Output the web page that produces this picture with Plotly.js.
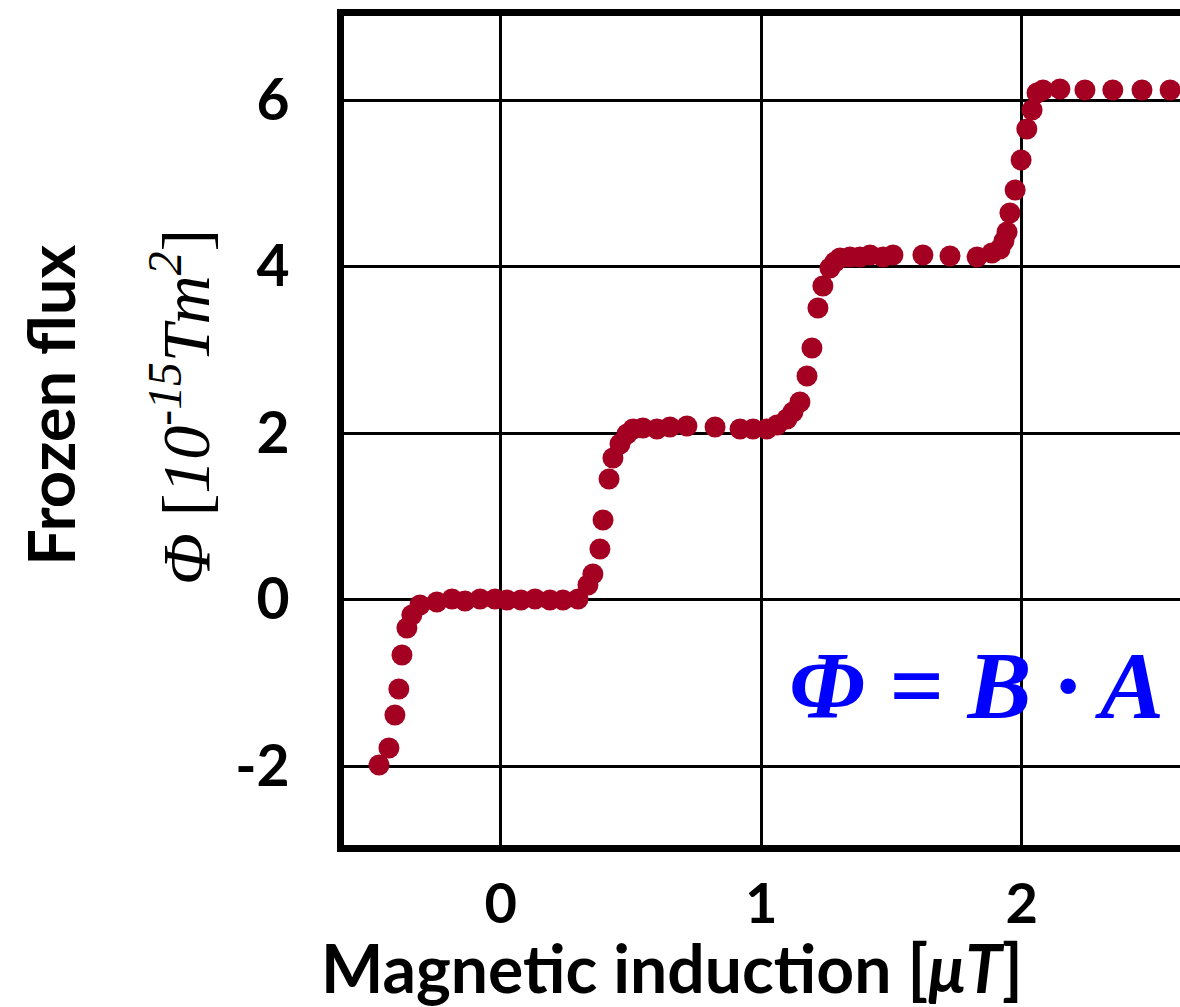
<!DOCTYPE html>
<html>
<head>
<meta charset="utf-8">
<script src="https://cdn.plot.ly/plotly-3.0.1.min.js"></script>
<style>
html,body{margin:0;padding:0;background:#fff;}
#chart{width:1180px;height:1007px;}
</style>
</head>
<body>
<div id="chart"></div>
<script>
// Magnetic induction [µT]
const B = [-0.467,-0.429,-0.406,-0.391,-0.379,-0.360,-0.341,-0.310,-0.245,-0.187,-0.137,-0.079,-0.022,0.024,0.078,0.132,0.189,0.239,0.297,0.335,0.354,0.381,0.393,0.416,0.431,0.458,0.485,0.508,0.546,0.600,0.650,0.715,0.823,0.919,0.969,1.022,1.061,1.099,1.122,1.149,1.176,1.195,1.218,1.237,1.264,1.283,1.303,1.341,1.379,1.418,1.468,1.506,1.621,1.725,1.829,1.886,1.917,1.932,1.944,1.955,1.975,1.998,2.020,2.040,2.059,2.082,2.147,2.243,2.350,2.462,2.570];
// Frozen flux [1e-15 Tm^2]
const PHI = [-1.988,-1.784,-1.387,-1.075,-0.667,-0.342,-0.186,-0.066,-0.030,0.006,-0.018,0.006,0.006,-0.006,-0.006,0.006,-0.006,-0.006,0.006,0.174,0.306,0.607,0.955,1.447,1.700,1.868,1.988,2.048,2.060,2.048,2.072,2.084,2.072,2.048,2.048,2.048,2.096,2.168,2.252,2.372,2.685,3.021,3.502,3.766,3.982,4.054,4.102,4.114,4.114,4.138,4.114,4.138,4.138,4.126,4.114,4.162,4.210,4.306,4.414,4.643,4.919,5.279,5.652,5.880,6.084,6.120,6.132,6.120,6.120,6.120,6.120];

const xTickVals = [0, 1, 2];
const xTickText = ['0', '1', '2'];
const yTickVals = [-2, 0, 2, 4, 6];
const yTickText = ['-2', '0', '2', '4', '6'];

const sans = 'Lato, "Open Sans", sans-serif';
const serif = '"Liberation Serif", "DejaVu Serif", serif';

const trace = {
  x: B, y: PHI, type: 'scatter', mode: 'markers',
  marker: {color: '#A30022', size: 21, line: {width: 0}},
  hoverinfo: 'skip'
};

const layout = {
  width: 1180, height: 1007,
  margin: {l: 344, r: 0, t: 16, b: 162, pad: 0},
  paper_bgcolor: '#fff', plot_bgcolor: '#fff',
  showlegend: false,
  xaxis: {
    range: [-0.6015, 2.608],
    tickvals: xTickVals, ticktext: xTickText,
    showgrid: true, gridcolor: '#000', gridwidth: 3,
    zeroline: false,
    showline: true, linecolor: '#000', linewidth: 7, mirror: true,
    ticks: 'outside', ticklen: 4, tickcolor: 'rgba(0,0,0,0)',
    tickfont: {family: sans, size: 56, color: '#000', weight: 'bold'}
  },
  yaxis: {
    range: [-2.949, 7.009],
    tickvals: yTickVals, ticktext: yTickText,
    showgrid: true, gridcolor: '#000', gridwidth: 3,
    zeroline: false,
    showline: true, linecolor: '#000', linewidth: 7, mirror: false,
    ticks: 'outside', ticklen: 36, tickcolor: 'rgba(0,0,0,0)',
    tickfont: {family: sans, size: 57, color: '#000', weight: 'bold'}
  },
  annotations: [
    {xref: 'paper', yref: 'paper', x: 0.392, y: -0.148, xanchor: 'center', yanchor: 'middle',
     showarrow: false, text: '<b>Magnetic induction [<i>μT</i>]</b>',
     font: {family: sans, size: 66, color: '#000'}},
    {xref: 'paper', yref: 'paper', x: -0.3517, y: 0.531, xanchor: 'center', yanchor: 'middle',
     showarrow: false, textangle: -90, text: '<b>Frozen flux</b>',
     font: {family: sans, size: 65, color: '#000'}},
    {xref: 'paper', yref: 'paper', x: -0.194, y: 0.528, xanchor: 'center', yanchor: 'middle',
     showarrow: false, textangle: -90,
     text: '<i>Φ</i> [<i>10<sup>-15</sup>Tm<sup>2</sup></i>]',
     font: {family: serif, size: 68, color: '#000'}},
    {xref: 'paper', yref: 'paper', x: 0.757, y: 0.192, xanchor: 'center', yanchor: 'middle',
     showarrow: false, text: '<b><i>Φ = B · A</i></b>',
     font: {family: serif, size: 96, color: '#0000FF'}}
  ]
};

Plotly.newPlot('chart', [trace], layout, {staticPlot: true, displayModeBar: false});
</script>
</body>
</html>
